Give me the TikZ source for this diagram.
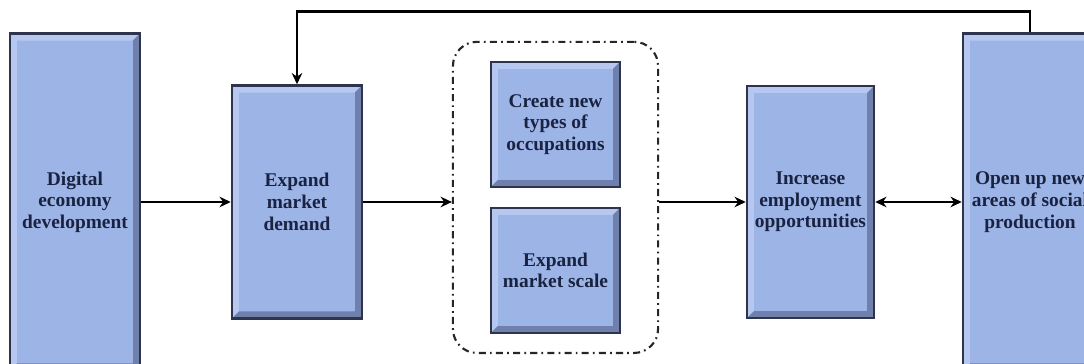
\documentclass[tikz,border=0pt]{standalone}
\usepackage{fontspec}
\setmainfont{Liberation Serif}
\usetikzlibrary{arrows.meta,fit}
\definecolor{boxblue}{RGB}{157,180,230}
\definecolor{boxlight}{RGB}{182,200,240}
\definecolor{boxdark}{RGB}{112,128,172}
\definecolor{boxedge}{RGB}{45,52,75}
\definecolor{textnavy}{RGB}{25,35,65}
\tikzset{   block/.style = {draw=boxedge, fill=boxblue, line width=1.8pt, rectangle, minimum width=3.25cm, align=center,
                font=\fontsize{13.8}{15.4}\selectfont\bfseries, text=textnavy,
                path picture={
                    \path (path picture bounding box.south west) coordinate (sw)
                          (path picture bounding box.north east) coordinate (ne);
                    \fill[boxlight] (sw) -- ++(0.18,0.18) |- ([shift={(-0.18,-0.18)}]ne) -- (ne) -| (sw) -- cycle;
                    \fill[boxdark] (sw) -- ++(0.18,0.18) -| ([shift={(-0.18,-0.18)}]ne) -- (ne) |- (sw) -- cycle;
                    \fill[boxblue] ([shift={(0.18,0.18)}]sw) rectangle ([shift={(-0.18,-0.18)}]ne);}},
            group/.style = {draw=black!85, line width=1.5pt, rounded corners=0.6cm, dash pattern=on 5pt off 3pt on 1.2pt off 3pt},
            arrow/.style = {-{Stealth[length=8pt,width=7.5pt]}, line width=2pt}}

\begin{document}
\begin{tikzpicture}
    \useasboundingbox (0,0) rectangle (27.1,9.1);
    \clip (0,0) rectangle (27.1,9.1);
    \node[block, minimum height=8.425cm](digital)at(1.875,4.05){Digital\\economy\\development};
    \node[block, minimum height=5.825cm](demand)at(7.425,4.05){Expand\\market\\demand};
    \node[block, minimum width=3.225cm, minimum height=3.125cm](create)at(13.8875,5.99){Create new\\types of\\occupations};
    \node[block, minimum width=3.225cm, minimum height=3.125cm](scale)at(13.8875,2.34){Expand\\market scale};
    \node[group, fit=(create)(scale), inner xsep=0.92cm, inner ysep=0.47cm](effect){};
    \node[block, minimum width=3.175cm, minimum height=5.8cm](jobs)at(20.2625,4.05){Increase\\employment\\opportunities};
    \node[block, minimum width=3.35cm, minimum height=8.425cm](open)at(25.75,4.05){Open up new\\areas of social\\production};

    \draw[arrow](digital)--(demand);
    \draw[arrow](demand)--(effect.west |- demand.east);
    \draw[arrow](effect.east |- jobs.west)--(jobs);
    \draw[arrow, {Stealth[length=8pt,width=7.5pt]}-{Stealth[length=8pt,width=7.5pt]}](jobs)--(open);
    \draw[arrow](open.north)--++(0,0.52)-|(demand.north);
\end{tikzpicture}
\end{document}
